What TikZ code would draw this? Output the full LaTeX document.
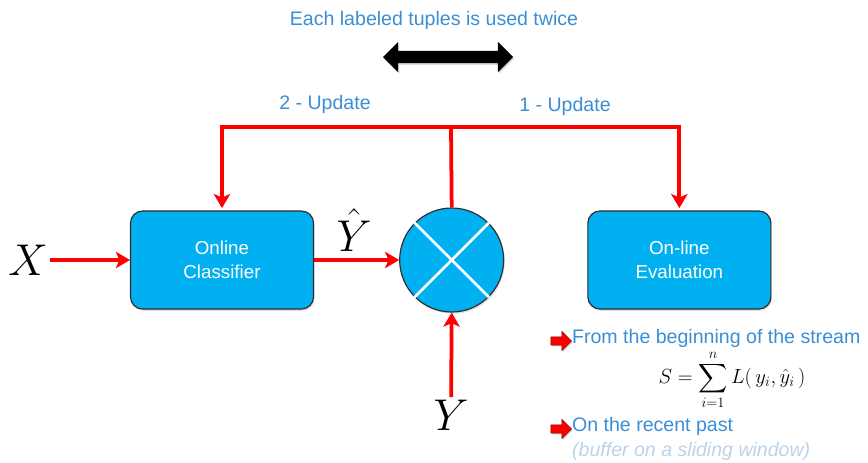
\RequirePackage{fix-cm}
\documentclass[tikz,border=0pt]{standalone}
\usepackage{amsmath}
\usepackage{fontspec}
\setmainfont{Liberation Sans}
\usetikzlibrary{positioning,arrows.meta,shapes.arrows,shadows}
\definecolor{boxcyan}{RGB}{0,176,240}
\definecolor{textblue}{RGB}{58,142,214}
\definecolor{paleblue}{RGB}{186,210,236}
\definecolor{edgegray}{RGB}{45,45,45}

\begin{document}
\begin{tikzpicture}
[x=0.03cm, y=-0.03cm,
blockbox/.style={rectangle, rounded corners=0.36cm, draw=edgegray, fill=boxcyan, line width=1pt, minimum width=5.49cm, minimum height=2.94cm, align=center, text=white, font=\fontsize{16}{20}\selectfont, drop shadow={opacity=0.25, shadow xshift=1pt, shadow yshift=-1.5pt}},
mixnode/.style={circle, draw=edgegray, fill=boxcyan, line width=1pt, minimum size=3.12cm, inner sep=0pt, drop shadow={opacity=0.25, shadow xshift=1pt, shadow yshift=-1.5pt}},
flow/.style={draw=red, line width=3.2pt, -{Stealth[length=12pt, width=14pt, inset=3pt]}},
feed/.style={draw=red, line width=3.2pt},
bluetext/.style={text=textblue, font=\fontsize{16.7}{20}\selectfont},
bigmath/.style={font=\fontsize{38}{38}\selectfont, inner sep=2pt},
pointer/.style={single arrow, fill=red, draw=red!50!black, line width=0.4pt, minimum height=0.62cm, minimum width=0.58cm, single arrow head extend=0.1cm, inner sep=0.07cm, drop shadow={opacity=0.35, shadow xshift=1pt, shadow yshift=-1pt}},
]
\useasboundingbox (0,0) rectangle (868,462);

% title and the double arrow
\node[bluetext] (title) at (434,20) {Each labeled tuples is used twice};
\node[double arrow, fill=black, minimum height=3.9cm, minimum width=0.9cm, inner sep=0.18cm, double arrow head extend=0.27cm, drop shadow={opacity=0.3, shadow xshift=1pt, shadow yshift=-1.5pt}] (twice) at (448,57) {};
\node[bluetext] (upd2) at (325,104) {2 - Update};
\node[bluetext] (upd1) at (565,106) {1 - Update};

% main blocks
\node[blockbox] (clf) at (222,260) {Online\\Classifier};
\node[mixnode] (mix) [right=2.55cm of clf] {};
\node[blockbox] (ev) [right=2.49cm of mix] {On-line\\Evaluation};
\draw[white, line width=2.2pt] (mix.north east) -- (mix.south west) (mix.north west) -- (mix.south east);

% labels
\node[bigmath, anchor=base] (xin) at (28,275) {$X$};
\node[bigmath, anchor=base] (yhat) at (354,251) {$\hat{Y}$};
\node[bigmath, anchor=base] (yin) at (451,430) {$Y$};

% connectors
\coordinate (top) at (451,127);
\draw[flow] (xin.east |- clf.west) -- (clf.west);
\draw[flow] (clf.east) -- (mix.west);
\draw[flow] (yin) -- (mix.south);
\draw[feed] (mix.north) -- (top);
\draw[flow] (top) -| ([yshift=2pt]clf.north);
\draw[flow] (top) -| ([yshift=2pt]ev.north);

% evaluation notes
\node[pointer] (p1) at (559,341) {};
\node[bluetext, anchor=west] (n1) at (568,338) {From the beginning of the stream};
\node[font=\fontsize{17.5}{20}\selectfont] (loss) at (732,380) {$\displaystyle S=\sum_{i=1}^{n} L(\,y_i,\hat{y}_i\,)$};
\node[pointer] (p2) at (559,429) {};
\node[bluetext, anchor=west] (n2) at (568,426) {On the recent past};
\node[text=paleblue, font=\fontsize{16.7}{20}\selectfont\itshape, anchor=west] (n3) at (568,451) {(buffer on a sliding window)};
\end{tikzpicture}
\end{document}
